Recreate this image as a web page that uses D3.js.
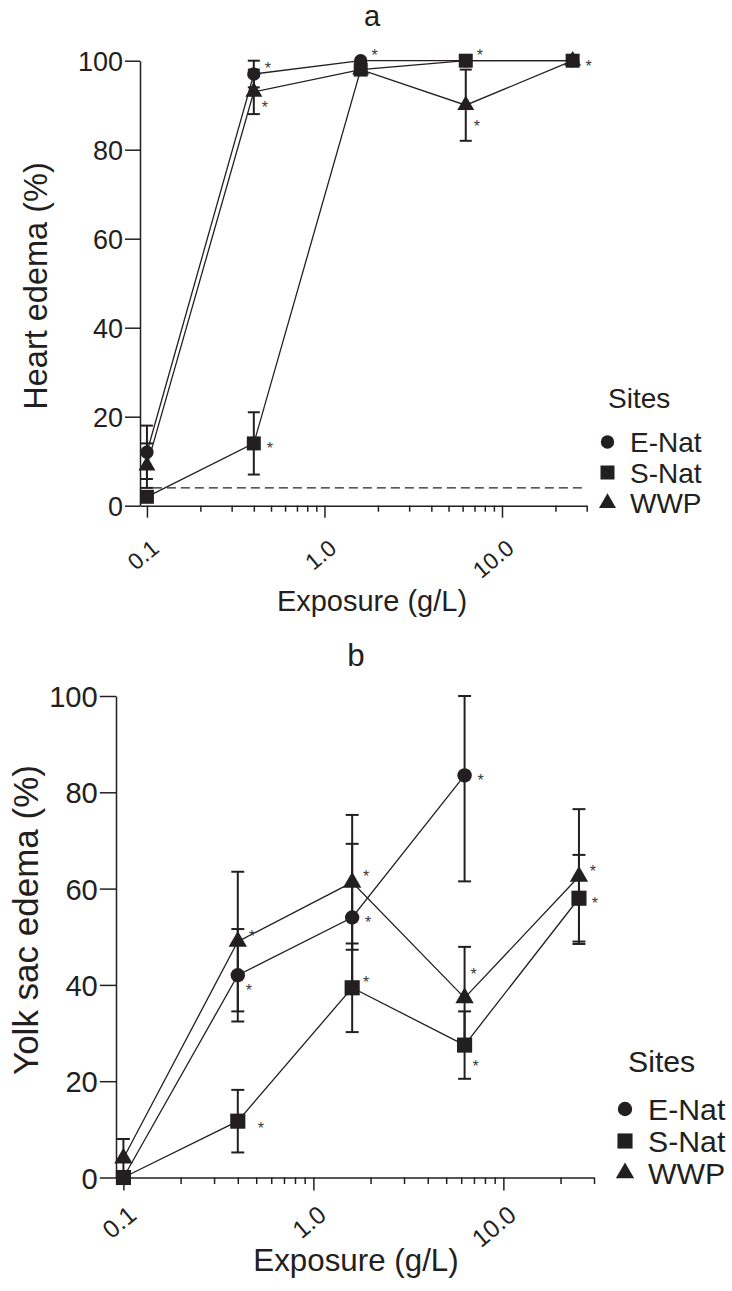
<!DOCTYPE html>
<html>
<head>
<meta charset="utf-8">
<script src="https://cdn.jsdelivr.net/npm/d3@7"></script>
<style>
  body { margin: 0; background: #fff; }
  svg { display: block; }
</style>
</head>
<body>
<div class="box"></div>
<script>
// DATA

// exposure concentrations (g/L), shared by both panels
const doses = [0.1, 0.4, 1.6, 6.25, 25];
const sites = ['E-Nat', 'S-Nat', 'WWP'];

// axis ticks
const yTicks = [0, 20, 40, 60, 80, 100];
const xMajor = [0.1, 1, 10];
const xMinor = [0.2, 0.3, 0.4, 0.5, 0.6, 0.7, 0.8, 0.9, 2, 3, 4, 5, 6, 7, 8, 9, 20, 30];

// panel a : heart edema (%)
const heartENat = [12, 97, 100, 100, 100];
const heartENatErr = [6, 3, 0, 0, 0];
const heartSNat = [2, 14, 98, 100, 100];
const heartSNatErr = [0, 7, 0, 0, 0];
const heartWWP = [9, 93, 98, 90, 100];
const heartWWPErr = [5, 5, 0, 8, 0];
const heartBaseline = 4; // dashed control line
// where the asterisk sits, by code
const heartStarENat = [null, 'ur', 'ur', null, null];
const heartStarSNat = [null, 'r', null, 'ur', 'r'];
const heartStarWWP = [null, 'dr', null, 'ddr', null];

// panel b : yolk sac edema (%)
const yolkENat = [0, 42, 54, 83.5, null];
const yolkENatErr = [0, 9.6, 15.3, 22, 0];
const yolkSNat = [0, 11.7, 39.4, 27.5, 58];
const yolkSNatErr = [0, 6.5, 9.2, 7, 9];
const yolkWWP = [4, 49, 61.3, 37.3, 62.5];
const yolkWWPErr = [4, 14.5, 14, 10.6, 14];
const yolkStarENat = [null, 'dr', 'r', 'r', null];
const yolkStarSNat = [null, 'rr', 'ur', 'ddr', 'r'];
const yolkStarWWP = [null, 'ur', 'ur', 'uu', 'ur'];

// SETUP

const W = 732, H = 1291;
const ink = '#231f20';
const font = '"Liberation Sans", Arial, sans-serif';

const svg = d3.select('.box')
              .append('svg')
              .attr('width', W)
              .attr('height', H)
              .style('background', '#fff');

// asterisk offsets from the marker centre
const starOffset = {
  r: [16, 2], rr: [23, 4], ur: [14, -9], uu: [9, -27],
  dr: [11, 12], ddr: [11, 18]
};

const shapes = {
  'E-Nat': d3.symbolCircle,
  'S-Nat': d3.symbolSquare,
  'WWP': d3.symbolTriangle
};

const drawPanel = (p) => {
  const k = p.scale; // panel b is drawn a little bigger
  const g = svg.append('g');

  const x = d3.scaleLog()
              .domain([0.0914, 30])
              .range(p.xRange);
  const y = d3.scaleLinear()
              .domain([0, 100])
              .range(p.yRange)
              .clamp(true);
  const y0 = y(0);

  // y axis
  const gy = g.append('g')
              .attr('transform', `translate(${p.xRange[0]},0)`)
              .call(d3.axisLeft(y).tickValues(yTicks).tickSize(15 * k).tickSizeOuter(0).tickPadding(2));
  gy.selectAll('text').style('font-size', (27 * k) + 'px').attr('dy', '0.36em');

  // x axis, major then minor ticks
  const gx = g.append('g')
              .attr('transform', `translate(0,${y0})`)
              .call(d3.axisBottom(x).tickValues(xMajor).tickSize(12 * k).tickSizeOuter(0)
                    .tickFormat(d3.format('.1f')));
  gx.selectAll('text')
    .attr('x', 0).attr('y', 0).attr('dy', null)
    .attr('text-anchor', 'end')
    .attr('transform', `translate(${13 * k},${p.labelDrop}) rotate(-40)`)
    .style('font-size', (23 * k) + 'px');
  g.append('g')
   .attr('transform', `translate(0,${y0})`)
   .call(d3.axisBottom(x).tickValues(xMinor).tickSize(6 * k).tickFormat(''))
   .select('.domain').remove();

  g.selectAll('.domain, .tick line').attr('stroke', ink).attr('stroke-width', 1.5);
  g.selectAll('text').attr('fill', ink).style('font-family', font);

  // titles
  g.append('text')
   .text(p.title)
   .attr('x', p.titleX).attr('y', p.titleY)
   .attr('text-anchor', 'middle')
   .style('font-size', (29 * k) + 'px');
  g.append('text')
   .text('Exposure (g/L)')
   .attr('x', p.titleX).attr('y', p.xLabelY)
   .attr('text-anchor', 'middle')
   .style('font-size', (29 * k) + 'px');
  g.append('text')
   .text(p.yLabel)
   .attr('transform', `translate(${p.yLabelX},${p.yLabelY}) rotate(-90)`)
   .attr('text-anchor', 'middle')
   .style('font-size', p.yLabelSize + 'px');
  g.selectAll('text').attr('fill', ink).style('font-family', font);

  // dashed control line
  if (p.baseline != null) {
    g.append('line')
     .attr('x1', x(0.108)).attr('x2', x(30))
     .attr('y1', y(p.baseline)).attr('y2', y(p.baseline))
     .attr('stroke', ink).attr('stroke-width', 1.2)
     .attr('stroke-dasharray', '9,5');
  }

  const rows = p.series.map(s => doses.map((d, i) => ({
    site: s.site, dose: d, v: s.values[i], e: s.errs[i], star: s.stars[i]
  })).filter(r => r.v != null));

  // connecting lines
  const line = d3.line().x(r => x(r.dose)).y(r => y(r.v));
  g.selectAll('path.series')
   .data(rows)
   .enter()
   .append('path')
   .attr('class', 'series')
   .attr('d', line)
   .attr('fill', 'none')
   .attr('stroke', ink)
   .attr('stroke-width', 1.3);

  const pts = rows.flat();

  // error bars
  const cap = 6 * k;
  const bars = g.selectAll('g.err')
                .data(pts.filter(r => r.e > 0))
                .enter()
                .append('g')
                .attr('class', 'err')
                .attr('stroke', ink)
                .attr('stroke-width', 2);
  bars.append('line')
      .attr('x1', r => x(r.dose)).attr('x2', r => x(r.dose))
      .attr('y1', r => y(r.v - r.e)).attr('y2', r => y(r.v + r.e));
  bars.append('line')
      .attr('x1', r => x(r.dose) - cap).attr('x2', r => x(r.dose) + cap)
      .attr('y1', r => y(r.v + r.e)).attr('y2', r => y(r.v + r.e));
  bars.append('line')
      .attr('x1', r => x(r.dose) - cap).attr('x2', r => x(r.dose) + cap)
      .attr('y1', r => y(r.v - r.e)).attr('y2', r => y(r.v - r.e));

  // markers
  const sym = (site) => d3.symbol()
                          .type(shapes[site])
                          .size(site === 'E-Nat' ? 140 * k * k : site === 'S-Nat' ? 196 * k * k : 125 * k * k)();
  g.selectAll('path.pt')
   .data(pts)
   .enter()
   .append('path')
   .attr('class', 'pt')
   .attr('d', r => sym(r.site))
   .attr('transform', r => `translate(${x(r.dose)},${y(r.v)})`)
   .attr('fill', ink);

  // asterisks
  g.selectAll('text.star')
   .data(pts.filter(r => r.star))
   .enter()
   .append('text')
   .attr('class', 'star')
   .text('*')
   .attr('x', r => x(r.dose) + starOffset[r.star][0])
   .attr('y', r => y(r.v) + starOffset[r.star][1] + 9)
   .attr('text-anchor', 'middle')
   .style('font-family', font)
   .style('font-size', '16px')
   .attr('fill', '#3a3a3a');

  // legend
  const lg = g.append('g');
  lg.append('text')
    .text('Sites')
    .attr('x', p.legend.x).attr('y', p.legend.titleY)
    .style('font-size', (28 * k) + 'px');
  sites.forEach((s, i) => {
    const cy = p.legend.rowY + i * p.legend.step;
    lg.append('path')
      .attr('d', sym(s))
      .attr('transform', `translate(${p.legend.symX},${cy})`)
      .attr('fill', ink);
    lg.append('text')
      .text(s)
      .attr('x', p.legend.textX).attr('y', cy)
      .attr('dy', '0.36em')
      .style('font-size', (28 * k) + 'px');
  });
  lg.selectAll('text').attr('fill', ink).style('font-family', font);
};

drawPanel({
  title: 'a', yLabel: 'Heart edema (%)', scale: 1,
  xRange: [140, 586.7], yRange: [505.7, 60.7],
  labelDrop: 45, titleX: 372, titleY: 26, xLabelY: 611,
  yLabelX: 47, yLabelY: 286, yLabelSize: 32.5,
  baseline: heartBaseline,
  legend: { x: 608, titleY: 408, symX: 607.5, textX: 630, rowY: 442, step: 30.5 },
  series: [
    { site: 'E-Nat', values: heartENat, errs: heartENatErr, stars: heartStarENat },
    { site: 'S-Nat', values: heartSNat, errs: heartSNatErr, stars: heartStarSNat },
    { site: 'WWP', values: heartWWP, errs: heartWWPErr, stars: heartStarWWP }
  ]
});

drawPanel({
  title: 'b', yLabel: 'Yolk sac edema (%)', scale: 1.08,
  xRange: [116, 594], yRange: [1177.5, 696],
  labelDrop: 40, titleX: 356, titleY: 666, xLabelY: 1271,
  yLabelX: 38, yLabelY: 920, yLabelSize: 35,
  baseline: null,
  legend: { x: 628, titleY: 1072, symX: 625, textX: 648, rowY: 1109, step: 32 },
  series: [
    { site: 'E-Nat', values: yolkENat, errs: yolkENatErr, stars: yolkStarENat },
    { site: 'S-Nat', values: yolkSNat, errs: yolkSNatErr, stars: yolkStarSNat },
    { site: 'WWP', values: yolkWWP, errs: yolkWWPErr, stars: yolkStarWWP }
  ]
});
</script>
</body>
</html>
